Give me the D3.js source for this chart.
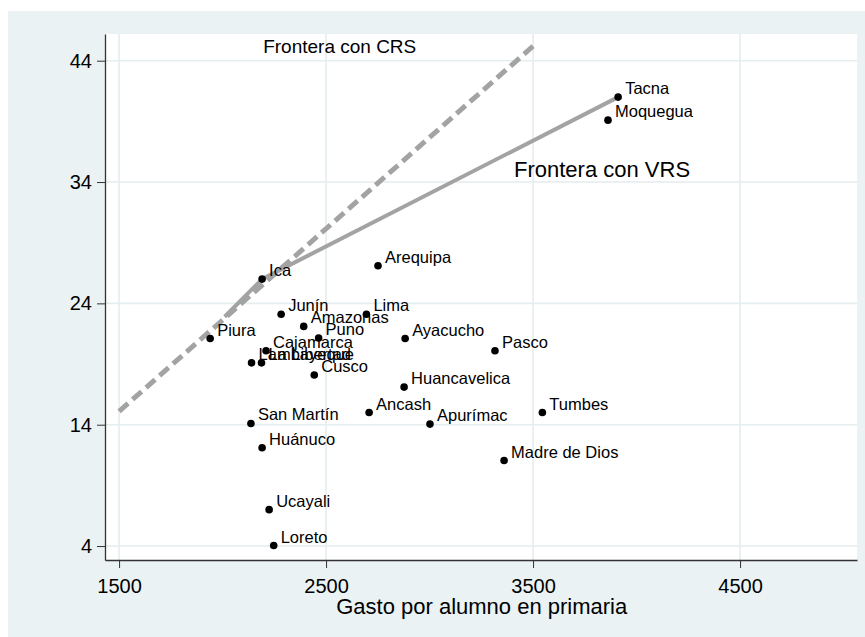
<!DOCTYPE html>
<html>
<head>
<meta charset="utf-8">
<script src="https://cdn.jsdelivr.net/npm/d3@7"></script>
<style>
body{margin:0;background:#fff;}
text{font-family:"Liberation Sans",Arial,sans-serif;fill:#000;}
</style>
</head>
<body>
<script>
// regions, spending per pupil and score
var regiones = ["Tacna","Moquegua","Arequipa","Ica","Junín","Lima","Amazonas","Puno","Ayacucho","Piura",
  "Pasco","Cajamarca","Lambayeque","La Libertad","Cusco","Huancavelica","Ancash","Apurímac","Tumbes",
  "Madre de Dios","San Martín","Huánuco","Ucayali","Loreto"];
var gasto = [3911,3862,2751,2191,2283,2695,2392,2464,2882,1940,
  3316,2210,2140,2188,2443,2877,2708,3002,3545,
  3360,2137,2191,2225,2247];
var logro = [41.0,39.1,27.1,26.0,23.1,23.1,22.1,21.15,21.1,21.1,
  20.1,20.1,19.1,19.1,18.1,17.1,15.0,14.05,15.0,
  11.05,14.1,12.1,7.0,4.04];
var xTicks = [1500,2500,3500,4500];
var yTicks = [4,14,24,34,44];
// frontiers
var fronteraCRS = [[1500,15.1],[3500,45.2]];
var fronteraVRS = [[2010,22.9],[2191,26.0],[3911,41.0]];
var notas = [{t:"Frontera con CRS",x:2196,y:44.6,s:19},{t:"Frontera con VRS",x:3408,y:34.4,s:22}];

var W=865,H=637;
var svg=d3.select("body").append("svg").attr("width",W).attr("height",H);
svg.append("rect").attr("x",8).attr("y",11).attr("width",W-8).attr("height",H-11).attr("fill","#eaf2f3");

var x=d3.scaleLinear().domain([1432,5065]).range([105,857]);
var y=d3.scaleLinear().domain([2.85,46.2]).range([560,34]);

//plot region
svg.append("rect").attr("x",105).attr("y",34).attr("width",752).attr("height",526).attr("fill","#fff");

//grid
svg.append("g").selectAll("line").data(yTicks).enter().append("line")
  .attr("x1",105).attr("x2",857).attr("y1",d=>y(d)).attr("y2",d=>y(d))
  .attr("stroke","#e4edef").attr("stroke-width",1.6);
svg.append("g").selectAll("line").data(xTicks).enter().append("line")
  .attr("y1",34).attr("y2",560).attr("x1",d=>x(d)).attr("x2",d=>x(d))
  .attr("stroke","#e4edef").attr("stroke-width",1.6);

//axes
var ax=svg.append("g").attr("transform","translate(0,560)")
  .call(d3.axisBottom(x).tickValues(xTicks).tickFormat(d3.format("d")).tickSize(8).tickPadding(11).tickSizeOuter(0));
var ay=svg.append("g").attr("transform","translate(105,0)")
  .call(d3.axisLeft(y).tickValues(yTicks).tickFormat(d3.format("d")).tickSize(8).tickPadding(5).tickSizeOuter(0));
[ax,ay].forEach(function(g){
  g.select(".domain").attr("stroke","#333").attr("stroke-width",1.3);
  g.selectAll(".tick line").attr("stroke","#333");
  g.selectAll("text").attr("font-size",20).attr("font-family","Liberation Sans, Arial, sans-serif").attr("fill","#000");
});

svg.append("text").attr("x",x(3252)).attr("y",614).attr("text-anchor","middle")
  .attr("font-size",22).text("Gasto por alumno en primaria");

//frontier lines
var line=d3.line().x(d=>x(d[0])).y(d=>y(d[1]));
svg.append("path").datum(fronteraCRS).attr("d",line).attr("fill","none")
  .attr("stroke","#a3a3a3").attr("stroke-width",5).attr("stroke-dasharray","12,6");
svg.append("path").datum(fronteraVRS).attr("d",line).attr("fill","none")
  .attr("stroke","#a3a3a3").attr("stroke-width",4).attr("stroke-linejoin","round");

svg.selectAll(".nota").data(notas).enter().append("text").attr("class","nota")
  .attr("x",d=>x(d.x)).attr("y",d=>y(d.y)).attr("font-size",d=>d.s).text(d=>d.t);

//points
var pts=regiones.map(function(r,i){return {r:r,g:gasto[i],l:logro[i]};});
svg.append("g").selectAll("circle").data(pts).enter().append("circle")
  .attr("cx",d=>x(d.g)).attr("cy",d=>y(d.l)).attr("r",3.8).attr("fill","#000");
svg.append("g").selectAll("text").data(pts).enter().append("text")
  .attr("x",d=>x(d.g)+7).attr("y",d=>y(d.l)-3).attr("font-size",16.5).text(d=>d.r);
</script>
</body>
</html>
